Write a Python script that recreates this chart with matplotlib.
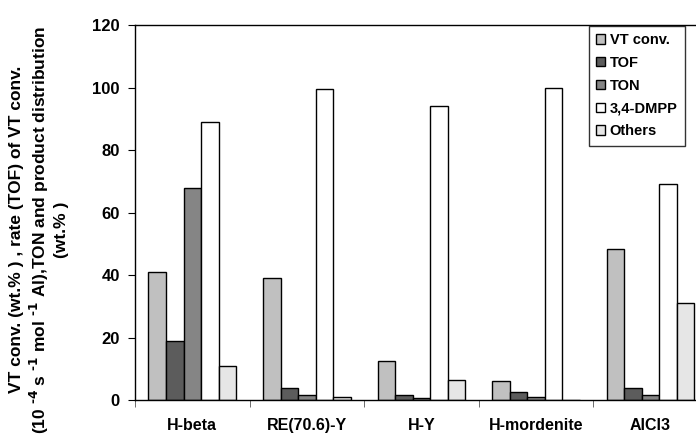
import numpy as np
import matplotlib
matplotlib.use("Agg")
import matplotlib.pyplot as plt
from matplotlib.ticker import FixedLocator

plt.rcParams['font.family'] = ['Liberation Sans', 'DejaVu Sans']
plt.rcParams['font.weight'] = 'bold'

catalysts = ["H-beta", "RE(70.6)-Y", "H-Y", "H-mordenite", "AlCl3"]
series_names = ["VT conv.", "TOF", "TON", "3,4-DMPP", "Others"]
vt_conv = [41, 39, 12.5, 6, 48.5]
tof = [19, 4, 1.5, 2.5, 4]
ton = [68, 1.5, 0.5, 1, 1.5]
dmpp = [89, 99.5, 94, 100, 69]
others = [11, 1, 6.5, 0, 31]
colors = ["#c0c0c0", "#5c5c5c", "#858585", "#ffffff", "#e6e6e6"]

fig = plt.figure(figsize=(6.96, 4.42), dpi=100)
ax = fig.add_axes([0.194, 0.095, 0.823, 0.848])

x = np.arange(len(catalysts))
w = 0.153
for i, (vals, name) in enumerate(zip([vt_conv, tof, ton, dmpp, others], series_names)):
    ax.bar(x + (i - 2) * w, vals, w, color=colors[i], edgecolor="black",
           linewidth=1.0, label=name)

ax.set_xlim(-0.5, 4.5)
ax.set_ylim(0, 120)
ax.set_yticks(range(0, 121, 20))
ax.set_xticks(x)
ax.set_xticklabels(catalysts, fontsize=11.5, fontweight='bold')
ax.xaxis.set_minor_locator(FixedLocator(np.arange(-0.5, 4.6, 1)))
ax.tick_params(axis='x', which='major', length=0, pad=13)
ax.tick_params(axis='x', which='minor', length=5, direction='out', color='#555555')
ax.tick_params(axis='y', length=5, direction='out', labelsize=12, pad=6)
ax.spines['right'].set_visible(False)
for s in ax.spines.values():
    s.set_linewidth(1.0)

# superscripts with a plain hyphen, as in the original figure
ax.set_ylabel("VT conv. (wt.% ) , rate (TOF) of VT conv.\n"
              "(10 $^{\\text{-4}}$ s $^{\\text{-1}}$ mol $^{\\text{-1}}$ Al),TON and product distribution\n"
              "(wt.% )", fontsize=12.5, fontweight='bold', linespacing=1.25)
ax.yaxis.set_label_coords(-0.115, 0.455)

leg = ax.legend(loc='upper right', bbox_to_anchor=(0.961, 1.0), fontsize=10.5,
                frameon=True, fancybox=False, edgecolor='black',
                handlelength=0.6, handleheight=0.6, handletextpad=0.3,
                labelspacing=0.6, borderpad=0.5, borderaxespad=0.05)
leg.get_frame().set_linewidth(1.0)

fig.savefig("out.png", dpi=100)
